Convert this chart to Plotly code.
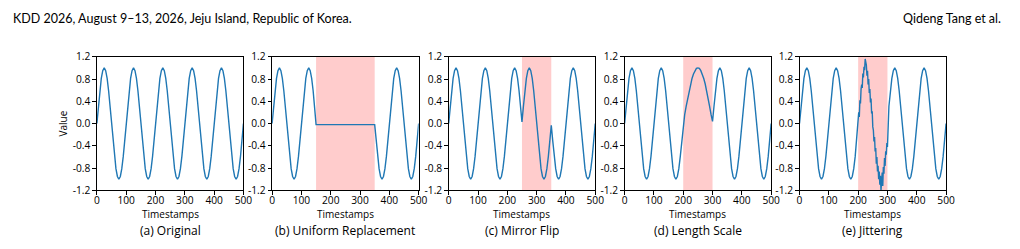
import plotly.graph_objects as go

# ---------------- data ----------------
timestamps = list(range(0, 501, 5))
original = [
    0.0, 0.31, 0.59, 0.81, 0.95, 1.0, 0.95, 0.81, 0.59, 0.31, 0.0, -0.31, -0.59, -0.81, -0.95, -1.0, -0.95, -0.81, -0.59, -0.31,
    0.0, 0.31, 0.59, 0.81, 0.95, 1.0, 0.95, 0.81, 0.59, 0.31, 0.0, -0.31, -0.59, -0.81, -0.95, -1.0, -0.95, -0.81, -0.59, -0.31,
    0.0, 0.31, 0.59, 0.81, 0.95, 1.0, 0.95, 0.81, 0.59, 0.31, 0.0, -0.31, -0.59, -0.81, -0.95, -1.0, -0.95, -0.81, -0.59, -0.31,
    0.0, 0.31, 0.59, 0.81, 0.95, 1.0, 0.95, 0.81, 0.59, 0.31, 0.0, -0.31, -0.59, -0.81, -0.95, -1.0, -0.95, -0.81, -0.59, -0.31,
    0.0, 0.31, 0.59, 0.81, 0.95, 1.0, 0.95, 0.81, 0.59, 0.31, 0.0, -0.31, -0.59, -0.81, -0.95, -1.0, -0.95, -0.81, -0.59, -0.31,
    0.0,
]

# (b) uniform replacement segment
uniform_t = [150, 350]
uniform_v = [-0.02, -0.02]

# (c) mirror flip segment
mirror_t = list(range(250, 351, 5))
mirror_v = [0.03, 0.31, 0.59, 0.81, 0.95, 1.0, 0.95, 0.81, 0.59, 0.31, 0.0,
            -0.31, -0.59, -0.81, -0.95, -1.0, -0.95, -0.81, -0.59, -0.31, -0.03]

# (d) length scale segment
length_t = list(range(200, 301, 5))
length_v = [0.0, 0.16, 0.31, 0.45, 0.59, 0.71, 0.81, 0.89, 0.95, 0.99, 1.0,
            0.99, 0.95, 0.89, 0.81, 0.71, 0.59, 0.45, 0.31, 0.16, 0.04]

# (e) jittering segment
jitter_t = list(range(200, 301, 2))
jitter_v = [-0.05, 0.2, 0.12, 0.42, 0.36, 0.62, 0.7, 0.64, 0.9, 0.83, 1.02, 0.96, 1.16, 1.08, 1.05,
            0.86, 0.95, 0.7, 0.8, 0.55, 0.62, 0.38, 0.45, 0.18, 0.22, -0.06,
            -0.12, -0.32, -0.24, -0.5, -0.44, -0.72, -0.6, -0.86, -0.76, -1.0, -0.86, -1.1, -0.94, -1.2,
            -1.04, -0.88, -1.12, -0.78, -0.9, -0.62, -0.76, -0.5, -0.56, -0.35, -0.42]

highlight = {1: (150, 350), 2: (250, 350), 3: (200, 300), 4: (200, 300)}

captions = ["(a) Original", "(b) Uniform Replacement", "(c) Mirror Flip", "(d) Length Scale", "(e) Jittering"]
ytick_vals = [-1.2, -0.8, -0.4, 0.0, 0.4, 0.8, 1.2]
ytick_text = ["-1.2", "-0.8", "-0.4", "0.0", "0.4", "0.8", "1.2"]
xtick_vals = [0, 100, 200, 300, 400, 500]
xtick_text = ["0", "100", "200", "300", "400", "500"]


def splice(seg_t, seg_v):
    xs, ys = [], []
    for t, v in zip(timestamps, original):
        if t < seg_t[0]:
            xs.append(t); ys.append(v)
    xs += seg_t; ys += seg_v
    for t, v in zip(timestamps, original):
        if t > seg_t[-1]:
            xs.append(t); ys.append(v)
    return xs, ys


series = [
    (timestamps, original),
    splice(uniform_t, uniform_v),
    splice(mirror_t, mirror_v),
    splice(length_t, length_v),
    splice(jitter_t, jitter_v),
]

# ---------------- layout ----------------
W, H = 1020, 249
lefts = [95, 272.3, 451, 629, 806]
pw = 148.3
top_px, bot_px = 52.7, 194.3
FONT = "Open Sans"
LINE = "#1f77b4"

fig = go.Figure()
layout = dict(
    width=W, height=H, margin=dict(l=0, r=0, t=0, b=0),
    paper_bgcolor="white", plot_bgcolor="white", showlegend=False,
    font=dict(family=FONT, size=10, color="black"),
)
shapes, annotations = [], []
for i, (xs, ys) in enumerate(series):
    n = "" if i == 0 else str(i + 1)
    fig.add_trace(go.Scatter(x=xs, y=ys, mode="lines", line=dict(color=LINE, width=1.4),
                             xaxis="x" + n, yaxis="y" + n, hoverinfo="skip"))
    d0 = lefts[i] / W
    d1 = (lefts[i] + pw) / W
    common = dict(showline=True, mirror=True, linecolor="black", linewidth=1,
                  ticks="outside", ticklen=3.5, tickwidth=1, tickcolor="black",
                  showgrid=False, zeroline=False, tickfont=dict(family=FONT, size=10.2, color="black"))
    layout["xaxis" + n] = dict(domain=[d0, d1], range=[0, 500], anchor="y" + n,
                               tickvals=xtick_vals, ticktext=xtick_text, ticklabelstandoff=-3, **common)
    layout["yaxis" + n] = dict(domain=[1 - bot_px / H, 1 - top_px / H], range=[-1.2, 1.2],
                               anchor="x" + n, tickvals=ytick_vals, ticktext=ytick_text, **common)
    if i in highlight:
        a, b = highlight[i]
        shapes.append(dict(type="rect", xref="x" + n, yref="y" + n + " domain", x0=a, x1=b, y0=0, y1=1,
                           fillcolor="#ffcccc", line=dict(width=0), layer="below"))
    cx = (lefts[i] + pw / 2) / W
    annotations.append(dict(text="Timestamps", x=cx, y=1 - 219.5 / H, xref="paper", yref="paper",
                            showarrow=False, xanchor="center", yanchor="middle",
                            font=dict(family=FONT, size=10, color="black")))
    annotations.append(dict(text=captions[i], x=cx, y=1 - 236.5 / H, xref="paper", yref="paper",
                            showarrow=False, xanchor="center", yanchor="middle",
                            font=dict(family=FONT, size=12, color="black")))

annotations.append(dict(text="Value", x=60.7 / W, y=1 - 123.5 / H, xref="paper", yref="paper",
                        showarrow=False, textangle=-90, xanchor="center", yanchor="middle",
                        font=dict(family=FONT, size=10, color="black")))
annotations.append(dict(text="KDD 2026, August 9–13, 2026, Jeju Island, Republic of Korea.",
                        x=8 / W, y=1 - 12.5 / H, xref="paper", yref="paper", showarrow=False,
                        xanchor="left", yanchor="middle", font=dict(family="Lato", size=12.5, color="black")))
annotations.append(dict(text="Qideng Tang et al.", x=1012 / W, y=1 - 12.5 / H, xref="paper", yref="paper",
                        showarrow=False, xanchor="right", yanchor="middle",
                        font=dict(family="Lato", size=12.5, color="black")))

layout["shapes"] = shapes
layout["annotations"] = annotations
fig.update_layout(**layout)
fig.write_html("out.html")
